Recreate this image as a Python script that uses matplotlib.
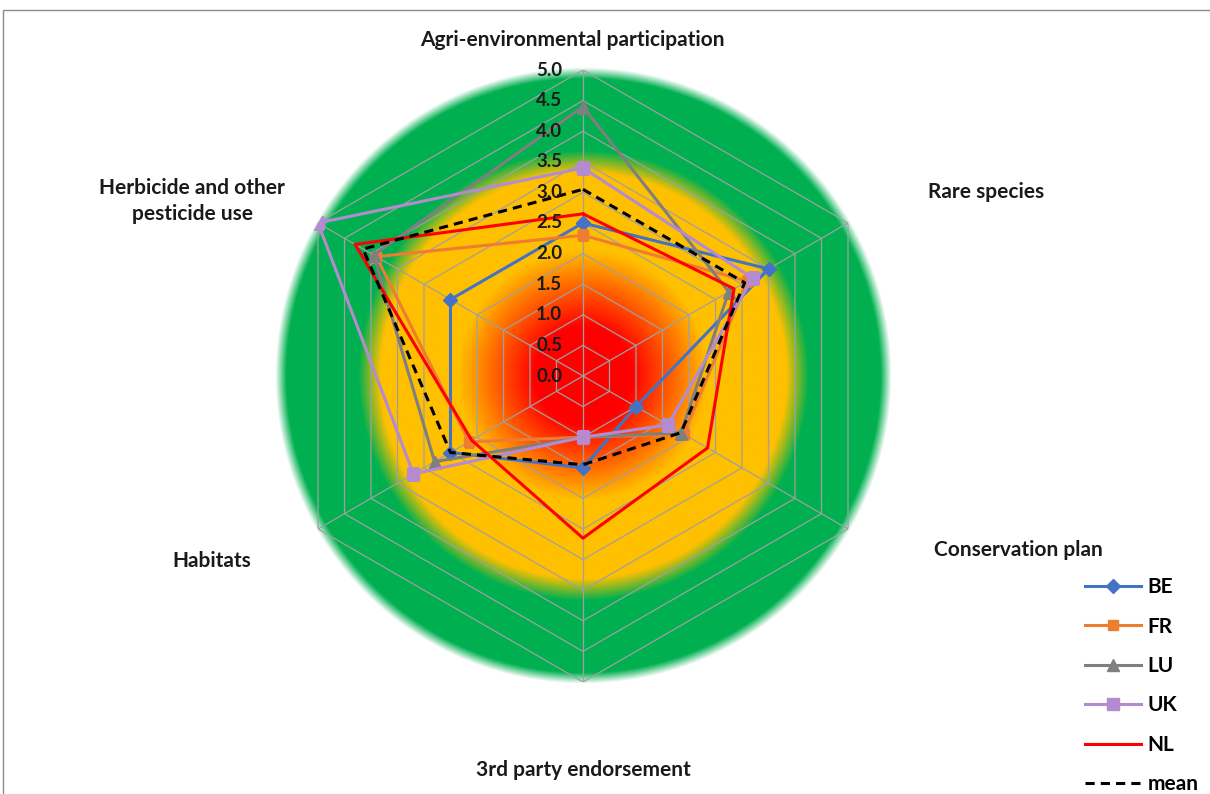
import numpy as np
import matplotlib
matplotlib.use("Agg")
import matplotlib.pyplot as plt
from matplotlib.colors import to_rgba
from matplotlib.patches import Rectangle

plt.rcParams["font.family"] = ["Lato", "DejaVu Sans"]

# ---------------------------------------------------------------
# Scores per criterion (clockwise from the top)
# ---------------------------------------------------------------
categories = [
    "Agri-environmental participation",
    "Rare species",
    "Conservation plan",
    "3rd party endorsement",
    "Habitats",
    "Herbicide and other\npesticide use",
]
be = [2.5, 3.5, 1.0, 1.5, 2.5, 2.5]
fr = [2.3, 3.1, 1.9, 1.0, 2.15, 3.9]
lu = [4.4, 2.75, 1.85, 1.0, 2.8, 3.95]
uk = [3.4, 3.2, 1.6, 1.0, 3.2, 5.0]
nl = [2.65, 2.85, 2.35, 2.65, 2.1, 4.3]
mean = [3.05, 3.05, 1.85, 1.45, 2.5, 4.15]

levels = np.arange(0.0, 5.01, 0.5)
r_max = 5.0

# ---------------------------------------------------------------
# Layout (pixels)
# ---------------------------------------------------------------
W, H = 1210, 794
cx, cy = 583, 376          # chart centre
ppu = 61.2                 # pixels per score unit

fig = plt.figure(figsize=(W / 100, H / 100), dpi=100)

# outer frame (only top/left edges fall inside the image)
fig.add_artist(Rectangle((3 / W, -0.1), 1.2, (H - 10) / H + 0.1,
                         transform=fig.transFigure, fill=False,
                         edgecolor="#8c8c8c", lw=1.0))


def rect_for(radius):
    half = radius * ppu
    return [(cx - half) / W, (H - cy - half) / H, 2 * half / W, 2 * half / H]


# radial traffic-light background
bg_r = 5.4
bg = fig.add_axes(rect_for(bg_r))
bg.axis("off")
n = 900
g = np.linspace(-bg_r, bg_r, n)
xx, yy = np.meshgrid(g, g)
rr = np.hypot(xx, yy)
stops = [
    (0.0, "#ff0000", 1),
    (0.8, "#ff0000", 1),
    (1.5, "#ff6a00", 1),
    (2.05, "#ffc000", 1),
    (3.32, "#ffc000", 1),
    (3.68, "#00b050", 1),
    (4.86, "#00b050", 1),
    (5.04, "#00b050", 0),
    (bg_r * 1.5, "#00b050", 0),
]
pos = np.array([s[0] for s in stops])
cols = np.array([to_rgba(s[1], s[2]) for s in stops])
img = np.zeros((n, n, 4))
for k in range(4):
    img[..., k] = np.interp(rr, pos, cols[:, k])
bg.imshow(img, extent=[-bg_r, bg_r, -bg_r, bg_r], origin="lower",
          interpolation="bilinear")
bg.set_xlim(-bg_r, bg_r)
bg.set_ylim(-bg_r, bg_r)

# radar axes on top
ax = fig.add_axes(rect_for(r_max), projection="polar")
ax.set_facecolor("none")
ax.set_theta_offset(np.pi / 2)
ax.set_theta_direction(-1)
ax.set_ylim(0, r_max)
ax.grid(False)
ax.set_xticks([])
ax.set_yticks([])
ax.spines["polar"].set_visible(False)

angles = np.linspace(0, 2 * np.pi, len(categories), endpoint=False)
closed = np.append(angles, angles[0])

grid_col = "#a0a0a0"
for lvl in levels[1:]:
    ax.plot(closed, [lvl] * len(closed), color=grid_col, lw=0.9, zorder=1)
for a in angles:
    ax.plot([a, a], [0, r_max], color=grid_col, lw=0.9, zorder=1)

for v in levels:
    ax.annotate(f"{v:.1f}", xy=(0, v), xytext=(-15, 0),
                textcoords="offset points", ha="right", va="center",
                fontsize=13.5, fontweight="bold", color="#1a1a1a", zorder=6)

series = [
    ("BE", be, "#4472c4", "D", 7),
    ("FR", fr, "#ed7d31", "s", 7.5),
    ("LU", lu, "#7f7f7f", "^", 8),
    ("UK", uk, "#b58bd0", "s", 8),
    ("NL", nl, "#ff0000", None, 0),
]
handles = []
for name, vals, col, mk, ms in series:
    h, = ax.plot(closed, np.append(vals, vals[0]), color=col, lw=2.2,
                 marker=mk, markersize=ms, label=name, zorder=3)
    handles.append(h)
h, = ax.plot(closed, np.append(mean, mean[0]), color="black", lw=2.2,
             ls=(0, (3, 2)), label="mean", zorder=4)
handles.append(h)

# category labels
label_xy = [(572, 40), (986, 192), (1018, 550), (583, 770), (212, 561), (192, 201)]
for text, (x, y) in zip(categories, label_xy):
    fig.text(x / W, 1 - y / H, text, ha="center", va="center",
             fontsize=15, fontweight="bold", color="#1a1a1a", linespacing=1.35)

fig.legend(handles=handles, loc="upper left",
           bbox_to_anchor=(1077 / W, 1 - 569 / H), frameon=False,
           prop={"size": 15, "weight": "bold"}, handlelength=2.65,
           labelspacing=0.93, handletextpad=0.35, borderaxespad=0)

fig.savefig("out.png", dpi=100)
